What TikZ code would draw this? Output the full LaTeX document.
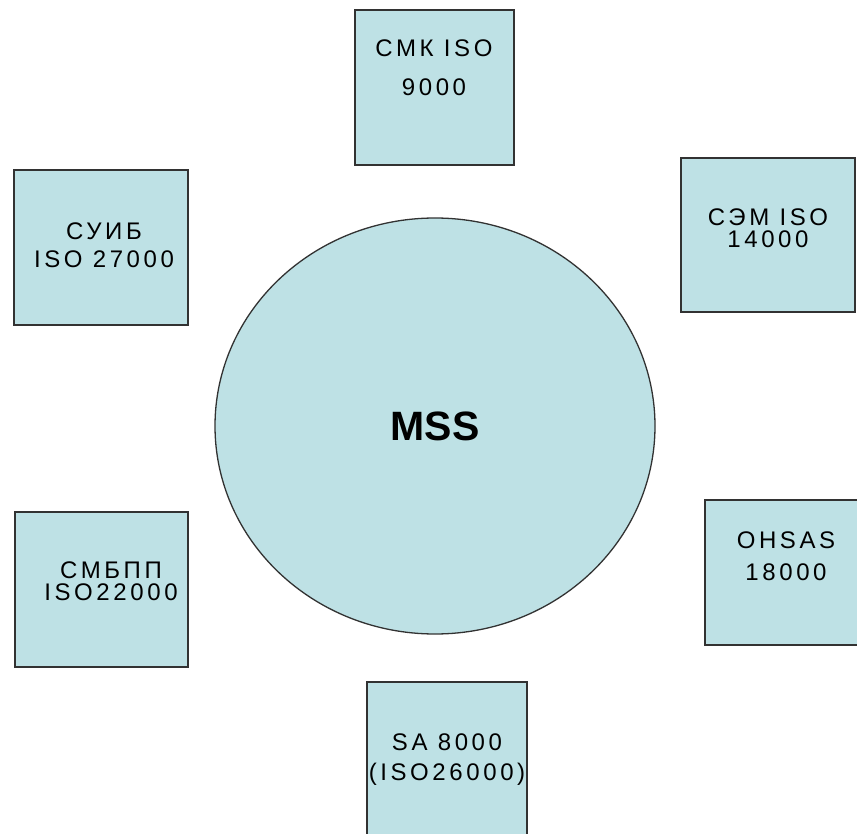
\documentclass[tikz,border=0pt]{standalone}
\usepackage{fontspec}
\setmainfont{Liberation Sans}
\newfontfamily\boxfont[LetterSpace=15]{Liberation Sans}
\usetikzlibrary{shapes.geometric}
\definecolor{boxfill}{RGB}{190,225,229}
\definecolor{boxline}{RGB}{50,50,50}
\tikzset{
  stdbox/.style n args={2}{draw=boxline, fill=boxfill, line width=1.6pt,
    minimum width=#1, minimum height=#2, inner sep=0pt},
  boxtext/.style={font=\boxfont\fontsize{24}{22}\selectfont, align=center, inner sep=0pt},
  hub/.style={draw=boxline, fill=boxfill, line width=1.3pt, ellipse,
    minimum width=440, minimum height=416, font=\bfseries\fontsize{41}{41}\selectfont}
}
\begin{document}
\begin{tikzpicture}[x=1pt, y=-1pt]
    \useasboundingbox (0,0) rectangle (857,834);
    \clip (0,0) rectangle (857,834);
    % standards round the hub
    \node[stdbox={159}{155}] (qms) at (434.5,87.5) {};
    \node[stdbox={174}{154}] (ems) at (768,235) {};
    \node[stdbox={174}{155}] (isms) at (101,247.5) {};
    \node[stdbox={173}{155}] (fsms) at (101.5,589.5) {};
    \node[stdbox={175}{145}] (ohsas) at (792.5,572.5) {};
    \node[stdbox={160}{168}] (sa) at (447,766) {};
    \node[boxtext] (qmst) at (434,68) {СМК ISO\\[17pt]9000};
    \node[boxtext] (emst) at (768,228) {СЭМ ISO\\14000};
    \node[boxtext] (ismst) at (104,245) {СУИБ\\[6pt]ISO 27000};
    \node[boxtext] (fsmst) at (111,581) {СМБПП\\ISO22000};
    \node[boxtext] (ohsast) at (786,556) {OHSAS\\[10pt]18000};
    \node[boxtext] (sat) at (447,760) {SA 8000\\[8pt](ISO26000)};
    % hub
    \node[hub] (mss) at (435,426) {MSS};
\end{tikzpicture}
\end{document}
